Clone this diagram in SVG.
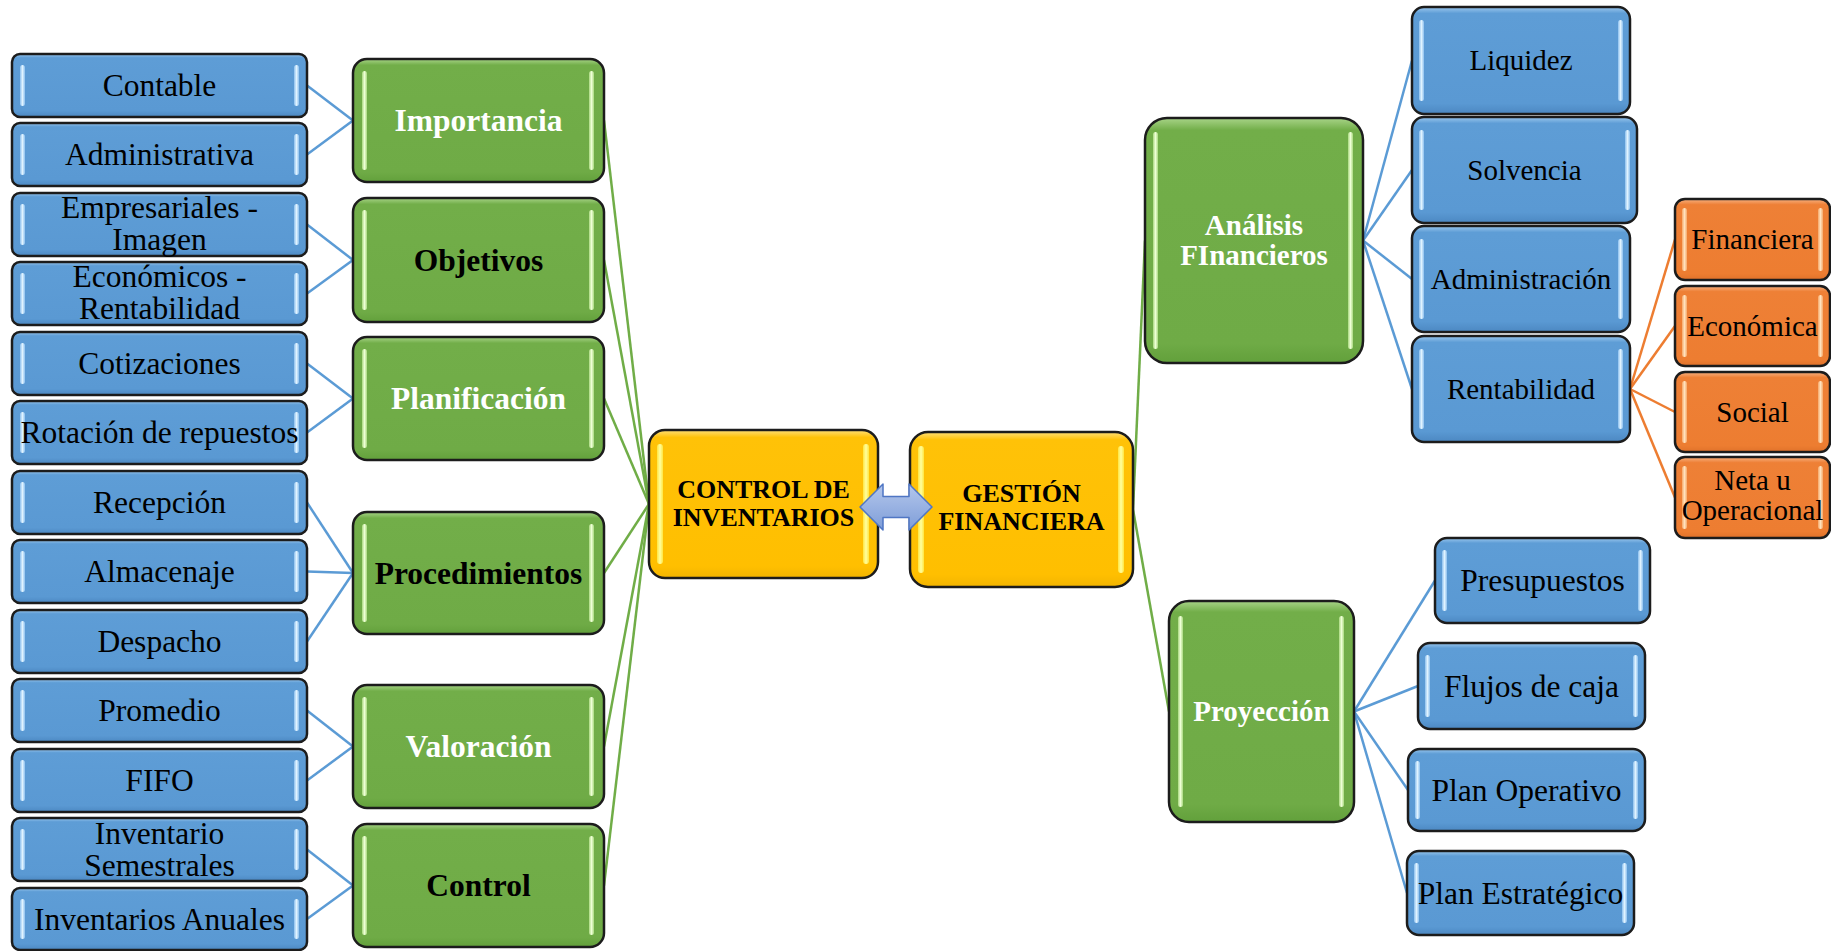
<svg xmlns="http://www.w3.org/2000/svg" width="1831" height="951" viewBox="0 0 1831 951">
  <defs>
    <linearGradient id="gBlue" x1="0" y1="0" x2="0" y2="1">
      <stop offset="0" stop-color="#9CC8EE"/>
      <stop offset="0.06" stop-color="#5E9DD6"/>
      <stop offset="0.9" stop-color="#5A99D3"/>
      <stop offset="1" stop-color="#4C88C2"/>
    </linearGradient>
    <linearGradient id="gGreen" x1="0" y1="0" x2="0" y2="1">
      <stop offset="0" stop-color="#A8D488"/>
      <stop offset="0.05" stop-color="#72AE49"/>
      <stop offset="0.92" stop-color="#6FAB46"/>
      <stop offset="1" stop-color="#62A03B"/>
    </linearGradient>
    <linearGradient id="gYellow" x1="0" y1="0" x2="0" y2="1">
      <stop offset="0" stop-color="#FFE07A"/>
      <stop offset="0.05" stop-color="#FFC208"/>
      <stop offset="0.92" stop-color="#FFBF00"/>
      <stop offset="1" stop-color="#F2B400"/>
    </linearGradient>
    <linearGradient id="gOrange" x1="0" y1="0" x2="0" y2="1">
      <stop offset="0" stop-color="#F8B282"/>
      <stop offset="0.07" stop-color="#EE8036"/>
      <stop offset="0.92" stop-color="#ED7D31"/>
      <stop offset="1" stop-color="#E0722A"/>
    </linearGradient>
    <linearGradient id="hBlue" x1="0" y1="0" x2="1" y2="0">
      <stop offset="0" stop-color="#8DC0EE"/>
      <stop offset="0.5" stop-color="#E0F3FF"/>
      <stop offset="1" stop-color="#8DC0EE"/>
    </linearGradient>
    <linearGradient id="hGreen" x1="0" y1="0" x2="1" y2="0">
      <stop offset="0" stop-color="#A9D87F"/>
      <stop offset="0.5" stop-color="#EEFFD6"/>
      <stop offset="1" stop-color="#A9D87F"/>
    </linearGradient>
    <linearGradient id="hYellow" x1="0" y1="0" x2="1" y2="0">
      <stop offset="0" stop-color="#FFE640"/>
      <stop offset="0.5" stop-color="#FFFFA0"/>
      <stop offset="1" stop-color="#FFE640"/>
    </linearGradient>
    <linearGradient id="hOrange" x1="0" y1="0" x2="1" y2="0">
      <stop offset="0" stop-color="#F6A869"/>
      <stop offset="0.5" stop-color="#FFE2BE"/>
      <stop offset="1" stop-color="#F6A869"/>
    </linearGradient>
    <linearGradient id="gArrow" x1="0" y1="0" x2="0" y2="1">
      <stop offset="0" stop-color="#B4C7EC"/>
      <stop offset="1" stop-color="#7E9DD8"/>
    </linearGradient>
  </defs>
  <style>
    .bl { fill: url(#gBlue); stroke: #1c1c1c; stroke-width: 2.5; }
    .gr { fill: url(#gGreen); stroke: #1c1c1c; stroke-width: 2.5; }
    .ye { fill: url(#gYellow); stroke: #1c1c1c; stroke-width: 2.5; }
    .or { fill: url(#gOrange); stroke: #1c1c1c; stroke-width: 2.5; }
    .hb { fill: url(#hBlue); }
    .hg { fill: url(#hGreen); }
    .hy { fill: url(#hYellow); }
    .ho { fill: url(#hOrange); }
    .t { font-family: "Liberation Serif", "Times New Roman", serif; text-anchor: middle; fill: #000; }
    .s31 { font-size: 31.5px; }
    .s29 { font-size: 29px; }
    .s26 { font-size: 26px; }
    .b { font-weight: bold; }
    .w { fill: #fff; }
    .cb { stroke: #5B9BD5; stroke-width: 2.5; fill: none; }
    .cg { stroke: #70AD47; stroke-width: 2.5; fill: none; }
    .co { stroke: #ED7D31; stroke-width: 2.5; fill: none; }
  </style>
  <rect width="1831" height="951" fill="#fff"/>

  <g id="connectors">
    <!-- leaves to left categories -->
    <line class="cb" x1="307" y1="85.5" x2="353" y2="120.5"/>
    <line class="cb" x1="307" y1="154.5" x2="353" y2="120.5"/>
    <line class="cb" x1="307" y1="224.5" x2="353" y2="260"/>
    <line class="cb" x1="307" y1="293.5" x2="353" y2="260"/>
    <line class="cb" x1="307" y1="363.5" x2="353" y2="398.5"/>
    <line class="cb" x1="307" y1="432.5" x2="353" y2="398.5"/>
    <line class="cb" x1="307" y1="502.5" x2="353" y2="573"/>
    <line class="cb" x1="307" y1="571.5" x2="353" y2="573"/>
    <line class="cb" x1="307" y1="641.5" x2="353" y2="573"/>
    <line class="cb" x1="307" y1="710.5" x2="353" y2="746.5"/>
    <line class="cb" x1="307" y1="780.5" x2="353" y2="746.5"/>
    <line class="cb" x1="307" y1="849.5" x2="353" y2="885.5"/>
    <line class="cb" x1="307" y1="919" x2="353" y2="885.5"/>
    <!-- left categories to CONTROL DE INVENTARIOS -->
    <line class="cg" x1="604" y1="120.5" x2="649" y2="504"/>
    <line class="cg" x1="604" y1="260" x2="649" y2="504"/>
    <line class="cg" x1="604" y1="398.5" x2="649" y2="504"/>
    <line class="cg" x1="604" y1="573" x2="649" y2="504"/>
    <line class="cg" x1="604" y1="746.5" x2="649" y2="504"/>
    <line class="cg" x1="604" y1="885.5" x2="649" y2="504"/>
    <!-- GESTIÓN FINANCIERA to right categories -->
    <line class="cg" x1="1133" y1="509.5" x2="1145" y2="240.5"/>
    <line class="cg" x1="1133" y1="509.5" x2="1169" y2="711.5"/>
    <!-- Análisis Financieros children -->
    <line class="cb" x1="1363" y1="240.5" x2="1412" y2="60.5"/>
    <line class="cb" x1="1363" y1="240.5" x2="1412" y2="170"/>
    <line class="cb" x1="1363" y1="240.5" x2="1412" y2="279"/>
    <line class="cb" x1="1363" y1="240.5" x2="1412" y2="389"/>
    <!-- Rentabilidad children -->
    <line class="co" x1="1630" y1="389" x2="1675" y2="239.5"/>
    <line class="co" x1="1630" y1="389" x2="1675" y2="326"/>
    <line class="co" x1="1630" y1="389" x2="1675" y2="412"/>
    <line class="co" x1="1630" y1="389" x2="1675" y2="497.5"/>
    <!-- Proyección children -->
    <line class="cb" x1="1354" y1="711.5" x2="1435" y2="580.5"/>
    <line class="cb" x1="1354" y1="711.5" x2="1418" y2="686"/>
    <line class="cb" x1="1354" y1="711.5" x2="1408" y2="790"/>
    <line class="cb" x1="1354" y1="711.5" x2="1407" y2="893"/>
  </g>

  <!-- left leaf column -->
  <g id="n-contable">
    <rect class="bl" x="12" y="54" width="295" height="63" rx="8"/>
    <rect class="hb" x="20" y="65" width="5" height="41" rx="2.5"/><rect class="hb" x="294" y="65" width="5" height="41" rx="2.5"/>
    <text class="t s31" x="159.5" y="96">Contable</text>
  </g>
  <g id="n-administrativa">
    <rect class="bl" x="12" y="123" width="295" height="63" rx="8"/>
    <rect class="hb" x="20" y="134" width="5" height="41" rx="2.5"/><rect class="hb" x="294" y="134" width="5" height="41" rx="2.5"/>
    <text class="t s31" x="159.5" y="165">Administrativa</text>
  </g>
  <g id="n-empresariales">
    <rect class="bl" x="12" y="193" width="295" height="63" rx="8"/>
    <rect class="hb" x="20" y="204" width="5" height="41" rx="2.5"/><rect class="hb" x="294" y="204" width="5" height="41" rx="2.5"/>
    <text class="t s31" x="159.5" y="217.5">Empresariales -</text>
    <text class="t s31" x="159.5" y="249.5">Imagen</text>
  </g>
  <g id="n-economicos">
    <rect class="bl" x="12" y="262" width="295" height="63" rx="8"/>
    <rect class="hb" x="20" y="273" width="5" height="41" rx="2.5"/><rect class="hb" x="294" y="273" width="5" height="41" rx="2.5"/>
    <text class="t s31" x="159.5" y="287">Económicos -</text>
    <text class="t s31" x="159.5" y="319">Rentabilidad</text>
  </g>
  <g id="n-cotizaciones">
    <rect class="bl" x="12" y="332" width="295" height="63" rx="8"/>
    <rect class="hb" x="20" y="343" width="5" height="41" rx="2.5"/><rect class="hb" x="294" y="343" width="5" height="41" rx="2.5"/>
    <text class="t s31" x="159.5" y="374">Cotizaciones</text>
  </g>
  <g id="n-rotacion">
    <rect class="bl" x="12" y="401" width="295" height="63" rx="8"/>
    <rect class="hb" x="20" y="412" width="5" height="41" rx="2.5"/><rect class="hb" x="294" y="412" width="5" height="41" rx="2.5"/>
    <text class="t s31" x="159.5" y="443">Rotación de repuestos</text>
  </g>
  <g id="n-recepcion">
    <rect class="bl" x="12" y="471" width="295" height="63" rx="8"/>
    <rect class="hb" x="20" y="482" width="5" height="41" rx="2.5"/><rect class="hb" x="294" y="482" width="5" height="41" rx="2.5"/>
    <text class="t s31" x="159.5" y="513">Recepción</text>
  </g>
  <g id="n-almacenaje">
    <rect class="bl" x="12" y="540" width="295" height="63" rx="8"/>
    <rect class="hb" x="20" y="551" width="5" height="41" rx="2.5"/><rect class="hb" x="294" y="551" width="5" height="41" rx="2.5"/>
    <text class="t s31" x="159.5" y="582">Almacenaje</text>
  </g>
  <g id="n-despacho">
    <rect class="bl" x="12" y="610" width="295" height="63" rx="8"/>
    <rect class="hb" x="20" y="621" width="5" height="41" rx="2.5"/><rect class="hb" x="294" y="621" width="5" height="41" rx="2.5"/>
    <text class="t s31" x="159.5" y="652">Despacho</text>
  </g>
  <g id="n-promedio">
    <rect class="bl" x="12" y="679" width="295" height="63" rx="8"/>
    <rect class="hb" x="20" y="690" width="5" height="41" rx="2.5"/><rect class="hb" x="294" y="690" width="5" height="41" rx="2.5"/>
    <text class="t s31" x="159.5" y="721">Promedio</text>
  </g>
  <g id="n-fifo">
    <rect class="bl" x="12" y="749" width="295" height="63" rx="8"/>
    <rect class="hb" x="20" y="760" width="5" height="41" rx="2.5"/><rect class="hb" x="294" y="760" width="5" height="41" rx="2.5"/>
    <text class="t s31" x="159.5" y="791">FIFO</text>
  </g>
  <g id="n-inv-semestrales">
    <rect class="bl" x="12" y="818" width="295" height="63" rx="8"/>
    <rect class="hb" x="20" y="829" width="5" height="41" rx="2.5"/><rect class="hb" x="294" y="829" width="5" height="41" rx="2.5"/>
    <text class="t s31" x="159.5" y="843.5">Inventario</text>
    <text class="t s31" x="159.5" y="875.5">Semestrales</text>
  </g>
  <g id="n-inv-anuales">
    <rect class="bl" x="12" y="888" width="295" height="62" rx="8"/>
    <rect class="hb" x="20" y="899" width="5" height="40" rx="2.5"/><rect class="hb" x="294" y="899" width="5" height="40" rx="2.5"/>
    <text class="t s31" x="159.5" y="929.5">Inventarios Anuales</text>
  </g>

  <!-- left categories -->
  <g id="n-importancia">
    <rect class="gr" x="353" y="59" width="251" height="123" rx="14"/>
    <rect class="hg" x="362" y="71" width="5" height="99" rx="2.5"/><rect class="hg" x="589" y="71" width="5" height="99" rx="2.5"/>
    <text class="t s31 b w" x="478.5" y="131">Importancia</text>
  </g>
  <g id="n-objetivos">
    <rect class="gr" x="353" y="198" width="251" height="124" rx="14"/>
    <rect class="hg" x="362" y="210" width="5" height="100" rx="2.5"/><rect class="hg" x="589" y="210" width="5" height="100" rx="2.5"/>
    <text class="t s31 b" x="478.5" y="270.5">Objetivos</text>
  </g>
  <g id="n-planificacion">
    <rect class="gr" x="353" y="337" width="251" height="123" rx="14"/>
    <rect class="hg" x="362" y="349" width="5" height="99" rx="2.5"/><rect class="hg" x="589" y="349" width="5" height="99" rx="2.5"/>
    <text class="t s31 b w" x="478.5" y="409">Planificación</text>
  </g>
  <g id="n-procedimientos">
    <rect class="gr" x="353" y="512" width="251" height="122" rx="14"/>
    <rect class="hg" x="362" y="524" width="5" height="98" rx="2.5"/><rect class="hg" x="589" y="524" width="5" height="98" rx="2.5"/>
    <text class="t s31 b" x="478.5" y="583.5">Procedimientos</text>
  </g>
  <g id="n-valoracion">
    <rect class="gr" x="353" y="685" width="251" height="123" rx="14"/>
    <rect class="hg" x="362" y="697" width="5" height="99" rx="2.5"/><rect class="hg" x="589" y="697" width="5" height="99" rx="2.5"/>
    <text class="t s31 b w" x="478.5" y="757">Valoración</text>
  </g>
  <g id="n-control">
    <rect class="gr" x="353" y="824" width="251" height="123" rx="14"/>
    <rect class="hg" x="362" y="836" width="5" height="99" rx="2.5"/><rect class="hg" x="589" y="836" width="5" height="99" rx="2.5"/>
    <text class="t s31 b" x="478.5" y="896">Control</text>
  </g>

  <!-- central topics -->
  <g id="n-control-inventarios">
    <rect class="ye" x="649" y="430" width="229" height="148" rx="16"/>
    <rect class="hy" x="657" y="444" width="6" height="120" rx="3"/><rect class="hy" x="863" y="444" width="6" height="120" rx="3"/>
    <text class="t s26 b" x="763.5" y="498">CONTROL DE</text>
    <text class="t s26 b" x="763.5" y="526">INVENTARIOS</text>
  </g>
  <g id="n-gestion-financiera">
    <rect class="ye" x="910" y="432" width="223" height="155" rx="18"/>
    <rect class="hy" x="918" y="446" width="6" height="127" rx="3"/><rect class="hy" x="1118" y="446" width="6" height="127" rx="3"/>
    <text class="t s26 b" x="1021.5" y="502">GESTIÓN</text>
    <text class="t s26 b" x="1021.5" y="530">FINANCIERA</text>
  </g>

  <!-- two-way arrow between the central topics, laid over both boxes -->
  <g id="link-central">
    <path d="M860,507 L883,484 L883,496.5 L909,496.5 L909,484 L932,507 L909,530 L909,517.5 L883,517.5 L883,530 Z" fill="url(#gArrow)" stroke="#4F76C4" stroke-width="1.5" stroke-linejoin="round"/>
  </g>

  <!-- right categories -->
  <g id="n-analisis">
    <rect class="gr" x="1145" y="118" width="218" height="245" rx="22"/>
    <rect class="hg" x="1153" y="132" width="5" height="217" rx="2.5"/><rect class="hg" x="1348" y="132" width="5" height="217" rx="2.5"/>
    <text class="t s29 b w" x="1254" y="235">Análisis</text>
    <text class="t s29 b w" x="1254" y="265">FInancieros</text>
  </g>
  <g id="n-proyeccion">
    <rect class="gr" x="1169" y="601" width="185" height="221" rx="20"/>
    <rect class="hg" x="1178" y="616" width="5" height="191" rx="2.5"/><rect class="hg" x="1339" y="616" width="5" height="191" rx="2.5"/>
    <text class="t s29 b w" x="1261.5" y="721">Proyección</text>
  </g>

  <!-- financial analysis items -->
  <g id="n-liquidez">
    <rect class="bl" x="1412" y="7" width="218" height="107" rx="12"/>
    <rect class="hb" x="1419" y="20" width="5" height="81" rx="2.5"/><rect class="hb" x="1618" y="20" width="5" height="81" rx="2.5"/>
    <text class="t s29" x="1521" y="70">Liquidez</text>
  </g>
  <g id="n-solvencia">
    <rect class="bl" x="1412" y="117" width="225" height="106" rx="12"/>
    <rect class="hb" x="1419" y="130" width="5" height="80" rx="2.5"/><rect class="hb" x="1625" y="130" width="5" height="80" rx="2.5"/>
    <text class="t s29" x="1524.5" y="179.5">Solvencia</text>
  </g>
  <g id="n-administracion">
    <rect class="bl" x="1412" y="226" width="218" height="106" rx="12"/>
    <rect class="hb" x="1419" y="239" width="5" height="80" rx="2.5"/><rect class="hb" x="1618" y="239" width="5" height="80" rx="2.5"/>
    <text class="t s29" x="1521" y="288.5">Administración</text>
  </g>
  <g id="n-rentabilidad">
    <rect class="bl" x="1412" y="336" width="218" height="106" rx="12"/>
    <rect class="hb" x="1419" y="349" width="5" height="80" rx="2.5"/><rect class="hb" x="1618" y="349" width="5" height="80" rx="2.5"/>
    <text class="t s29" x="1521" y="398.5">Rentabilidad</text>
  </g>

  <!-- profitability types -->
  <g id="n-financiera">
    <rect class="or" x="1675" y="199" width="155" height="81" rx="10"/>
    <rect class="ho" x="1682" y="208" width="5" height="63" rx="2.5"/><rect class="ho" x="1818" y="208" width="5" height="63" rx="2.5"/>
    <text class="t s29" x="1752.5" y="249">Financiera</text>
  </g>
  <g id="n-economica">
    <rect class="or" x="1675" y="286" width="155" height="80" rx="10"/>
    <rect class="ho" x="1682" y="295" width="5" height="62" rx="2.5"/><rect class="ho" x="1818" y="295" width="5" height="62" rx="2.5"/>
    <text class="t s29" x="1752.5" y="335.5">Económica</text>
  </g>
  <g id="n-social">
    <rect class="or" x="1675" y="372" width="155" height="80" rx="10"/>
    <rect class="ho" x="1682" y="381" width="5" height="62" rx="2.5"/><rect class="ho" x="1818" y="381" width="5" height="62" rx="2.5"/>
    <text class="t s29" x="1752.5" y="421.5">Social</text>
  </g>
  <g id="n-neta">
    <rect class="or" x="1675" y="457" width="155" height="81" rx="10"/>
    <rect class="ho" x="1682" y="466" width="5" height="63" rx="2.5"/><rect class="ho" x="1818" y="466" width="5" height="63" rx="2.5"/>
    <text class="t s29" x="1752.5" y="490">Neta u</text>
    <text class="t s29" x="1752.5" y="520">Operacional</text>
  </g>

  <!-- projection items -->
  <g id="n-presupuestos">
    <rect class="bl" x="1435" y="538" width="215" height="85" rx="12"/>
    <rect class="hb" x="1442" y="550" width="5" height="61" rx="2.5"/><rect class="hb" x="1638" y="550" width="5" height="61" rx="2.5"/>
    <text class="t s31" x="1542.5" y="591">Presupuestos</text>
  </g>
  <g id="n-flujos">
    <rect class="bl" x="1418" y="643" width="227" height="86" rx="12"/>
    <rect class="hb" x="1425" y="655" width="5" height="62" rx="2.5"/><rect class="hb" x="1633" y="655" width="5" height="62" rx="2.5"/>
    <text class="t s31" x="1531.5" y="696.5">Flujos de caja</text>
  </g>
  <g id="n-plan-operativo">
    <rect class="bl" x="1408" y="749" width="237" height="82" rx="12"/>
    <rect class="hb" x="1415" y="761" width="5" height="58" rx="2.5"/><rect class="hb" x="1633" y="761" width="5" height="58" rx="2.5"/>
    <text class="t s31" x="1526.5" y="800.5">Plan Operativo</text>
  </g>
  <g id="n-plan-estrategico">
    <rect class="bl" x="1407" y="851" width="227" height="84" rx="12"/>
    <rect class="hb" x="1414" y="863" width="5" height="60" rx="2.5"/><rect class="hb" x="1622" y="863" width="5" height="60" rx="2.5"/>
    <text class="t s31" x="1520.5" y="903.5">Plan Estratégico</text>
  </g>
</svg>
